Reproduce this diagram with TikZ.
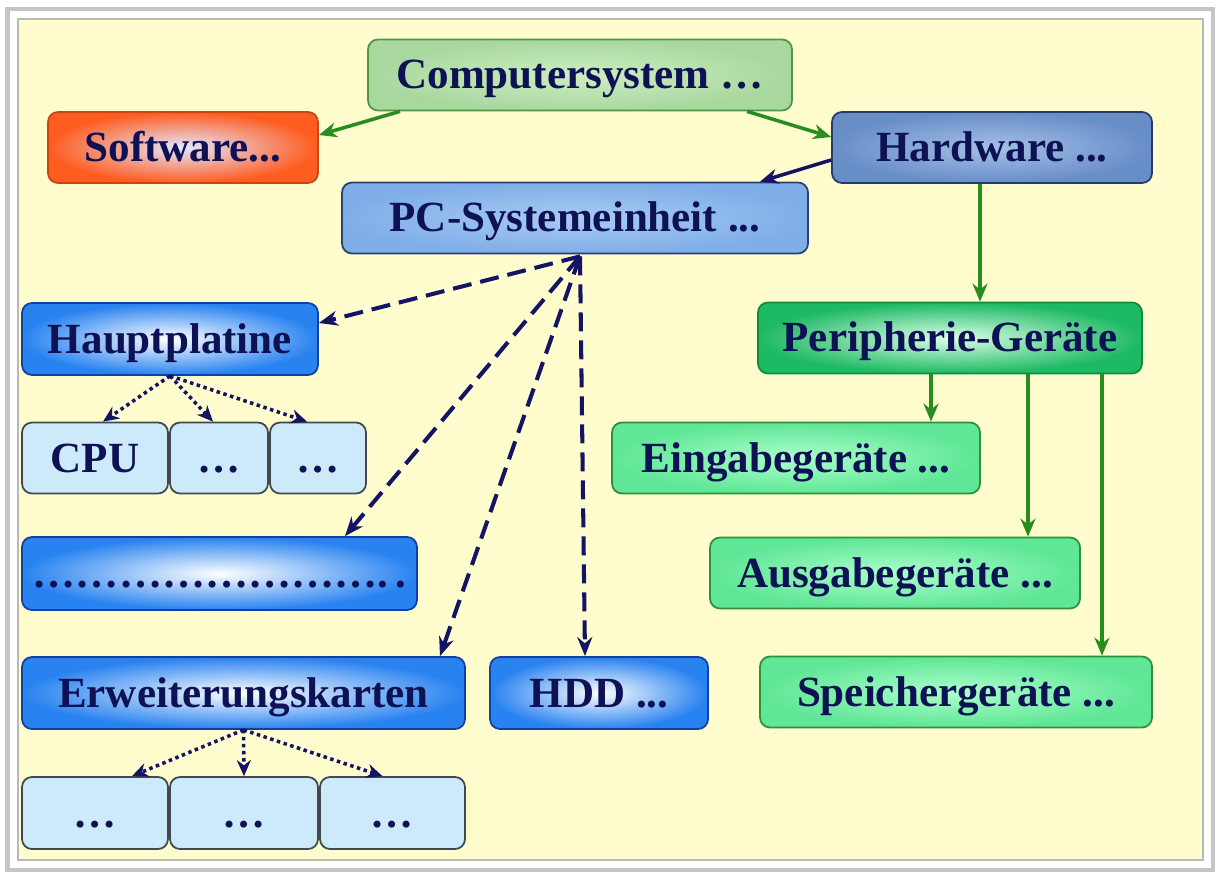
\documentclass[tikz,border=0pt]{standalone}
\usepackage{fontspec}
\setmainfont{Liberation Serif}
\usepackage{tikz}
\usetikzlibrary{arrows.meta}

\definecolor{bgyellow}{RGB}{255,252,206}
\definecolor{textnavy}{RGB}{14,18,84}
\definecolor{arrgreen}{RGB}{40,140,30}
\definecolor{arrnavy}{RGB}{20,20,100}

\begin{document}
\begin{tikzpicture}[
    box/.style={draw, rounded corners=0.2cm, line width=1pt, inner sep=0pt,
      minimum height=1.42cm, text height=0.64cm, text depth=0.08cm,
      text=textnavy, font=\fontsize{24.5}{28}\selectfont\bfseries},
    compbox/.style={box, draw={rgb,255:red,80;green,150;blue,70},
      inner color={rgb,255:red,205;green,238;blue,195}, outer color={rgb,255:red,168;green,216;blue,158}},
    softbox/.style={box, draw={rgb,255:red,200;green,70;blue,20},
      inner color={rgb,255:red,228;green,232;blue,255}, outer color={rgb,255:red,255;green,92;blue,32}},
    hardbox/.style={box, draw={rgb,255:red,40;green,58;blue,106},
      inner color={rgb,255:red,165;green,192;blue,230}, outer color={rgb,255:red,104;green,142;blue,200}},
    pcbox/.style={box, draw={rgb,255:red,42;green,64;blue,112},
      inner color={rgb,255:red,168;green,204;blue,242}, outer color={rgb,255:red,128;green,174;blue,232}},
    bluebox/.style={box, draw={rgb,255:red,16;green,64;blue,160},
      inner color=white, outer color={rgb,255:red,40;green,130;blue,240}},
    partbox/.style={box, draw={rgb,255:red,64;green,72;blue,80},
      fill={rgb,255:red,205;green,234;blue,250}},
    peribox/.style={box, draw={rgb,255:red,16;green,140;blue,64},
      inner color={rgb,255:red,220;green,255;blue,232}, outer color={rgb,255:red,30;green,185;blue,100}},
    devbox/.style={box, draw={rgb,255:red,48;green,144;blue,58},
      inner color={rgb,255:red,172;green,255;blue,204}, outer color={rgb,255:red,95;green,230;blue,150}},
    garrow/.style={draw=arrgreen, line width=2pt, -{Stealth[length=0.36cm,width=0.3cm]}},
    narrow/.style={draw=arrnavy, line width=2pt, -{Stealth[length=0.36cm,width=0.3cm]}},
    dasharrow/.style={draw=arrnavy, line width=2.3pt, dash pattern=on 0.38cm off 0.18cm,
      -{Stealth[length=0.38cm,width=0.3cm]}},
    dotarrow/.style={draw=arrnavy, line width=2pt, dash pattern=on 2pt off 2pt,
      -{Stealth[length=0.32cm,width=0.28cm]}}
  ]
  \useasboundingbox (0,0) rectangle (24.4,-17.56);
  \fill[white] (0,0) rectangle (24.4,-17.56);
  \draw[gray!45, line width=2.5pt] (0.15,-0.18) rectangle (24.26,-17.4);
  \draw[gray!55, fill=bgyellow, line width=1.5pt] (0.36,-0.38) rectangle (24.06,-17.2);

  \node[compbox, minimum width=8.48cm] (comp) at (11.6,-1.5) {Computersystem …};
  \node[softbox, minimum width=5.4cm] (soft) at (3.66,-2.95) {Software...};
  \node[hardbox, minimum width=6.4cm] (hard) at (19.84,-2.95) {Hardware ...};
  \node[pcbox, minimum width=9.32cm] (pc) at (11.5,-4.36) {PC-Systemeinheit ...};

  \node[bluebox, minimum width=5.92cm, minimum height=1.44cm] (haupt) at (3.4,-6.78) {Hauptplatine};
  \foreach \n/\x/\w/\t in {cpu1/1.9/2.92/CPU, cpu2/4.38/1.96/…, cpu3/6.36/1.92/…}
    \node[partbox, minimum width=\w cm] (\n) at (\x,-9.16) {\t};
  \node[bluebox, minimum width=7.9cm, minimum height=1.46cm] (dots) at (4.39,-11.47) {…………………….\,.};
  \node[bluebox, minimum width=8.86cm, minimum height=1.44cm] (erw) at (4.87,-13.86) {Erweiterungskarten};
  \node[bluebox, minimum width=4.36cm, minimum height=1.44cm] (hdd) at (11.98,-13.86) {HDD ...};
  \foreach \n/\x/\w in {ek1/1.9/2.92, ek2/4.88/2.96, ek3/7.85/2.9}
    \node[partbox, minimum width=\w cm, minimum height=1.44cm] (\n) at (\x,-16.26) {…};

  \node[peribox, minimum width=7.68cm] (peri) at (19.0,-6.76) {Peripherie-Geräte};
  \node[devbox, minimum width=7.36cm] (ein) at (15.92,-9.16) {Eingabegeräte ...};
  \node[devbox, minimum width=7.4cm] (aus) at (17.9,-11.46) {Ausgabegeräte ...};
  \node[devbox, minimum width=7.84cm] (spei) at (19.12,-13.84) {Speichergeräte ...};

  \draw[garrow] ([xshift=-3.6cm]comp.south) -- ([yshift=0.25cm]soft.east);
  \draw[garrow] ([xshift=3.34cm]comp.south) -- ([yshift=0.21cm]hard.west);
  \draw[narrow] ([yshift=-0.25cm]hard.west) -- ([xshift=3.7cm]pc.north);
  \draw[garrow] ([xshift=-0.24cm]hard.south) -- ([xshift=-0.24cm]hard.south |- peri.north);
  \foreach \s/\n in {-0.38/ein, 1.56/aus, 3.04/spei}
    \draw[garrow] ([xshift=\s cm]peri.south) -- ([xshift=\s cm]peri.south |- \n.north);

  \coordinate (hub) at ([xshift=0.1cm, yshift=-0.04cm]pc.south);
  \draw[dasharrow] (hub) -- ([yshift=0.32cm]haupt.east);
  \draw[dasharrow] (hub) -- ([xshift=2.51cm]dots.north);
  \draw[dasharrow] (hub) -- ([xshift=3.93cm]erw.north);
  \draw[dasharrow] (hub) -- ([xshift=-0.28cm]hdd.north);

  \foreach \s/\n in {0.16/cpu1, -0.12/cpu2, -0.22/cpu3}
    \draw[dotarrow] (haupt.south) -- ([xshift=\s cm]\n.north);
  \foreach \s/\n in {0.74/ek1, 0/ek2, -0.2/ek3}
    \draw[dotarrow] (erw.south) -- ([xshift=\s cm]\n.north);
\end{tikzpicture}
\end{document}
